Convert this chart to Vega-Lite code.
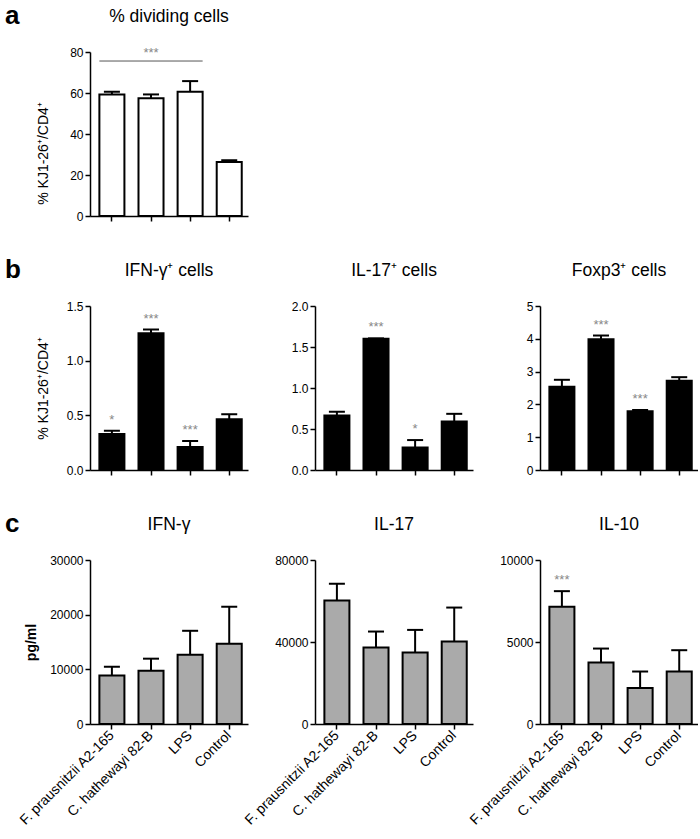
{
  "$schema": "https://vega.github.io/schema/vega-lite/v6.json",
  "padding": {"left": 5, "top": 2, "right": 0, "bottom": 0},
  "config": {
    "font": "Liberation Sans",
    "view": {"stroke": null},
    "axis": {"domainColor": "#000", "domainWidth": 1.5, "tickColor": "#000", "tickWidth": 1.5, "tickSize": 5, "labelColor": "#000", "labelFontSize": 12, "labelFont": "Liberation Sans", "grid": false, "titleColor": "#000", "labelPadding": 2, "titleFont": "Liberation Sans", "labelOverlap": false},
    "title": {"fontSize": 17.5, "fontWeight": "normal", "color": "#000", "offset": 21, "font": "Liberation Sans"}
  },
  "datasets": {
    "bars": [
      {"panel": "a", "group": "F. prausnitzii A2-165", "mean": 59.3, "upper": 60.6, "sig": ""},
      {"panel": "a", "group": "C. hathewayi 82-B", "mean": 57.5, "upper": 59.3, "sig": ""},
      {"panel": "a", "group": "LPS", "mean": 60.6, "upper": 65.8, "sig": ""},
      {"panel": "a", "group": "Control", "mean": 26.3, "upper": 27.2, "sig": ""},
      {"panel": "b1", "group": "F. prausnitzii A2-165", "mean": 0.33, "upper": 0.36, "sig": "*"},
      {"panel": "b1", "group": "C. hathewayi 82-B", "mean": 1.25, "upper": 1.285, "sig": "***"},
      {"panel": "b1", "group": "LPS", "mean": 0.21, "upper": 0.265, "sig": "***"},
      {"panel": "b1", "group": "Control", "mean": 0.465, "upper": 0.51, "sig": ""},
      {"panel": "b2", "group": "F. prausnitzii A2-165", "mean": 0.665, "upper": 0.71, "sig": ""},
      {"panel": "b2", "group": "C. hathewayi 82-B", "mean": 1.6, "upper": 1.605, "sig": "***"},
      {"panel": "b2", "group": "LPS", "mean": 0.275, "upper": 0.365, "sig": "*"},
      {"panel": "b2", "group": "Control", "mean": 0.59, "upper": 0.685, "sig": ""},
      {"panel": "b3", "group": "F. prausnitzii A2-165", "mean": 2.54, "upper": 2.75, "sig": ""},
      {"panel": "b3", "group": "C. hathewayi 82-B", "mean": 3.99, "upper": 4.1, "sig": "***"},
      {"panel": "b3", "group": "LPS", "mean": 1.79, "upper": 1.83, "sig": "***"},
      {"panel": "b3", "group": "Control", "mean": 2.72, "upper": 2.83, "sig": ""},
      {"panel": "c1", "group": "F. prausnitzii A2-165", "mean": 8850, "upper": 10450, "sig": ""},
      {"panel": "c1", "group": "C. hathewayi 82-B", "mean": 9750, "upper": 11950, "sig": ""},
      {"panel": "c1", "group": "LPS", "mean": 12650, "upper": 17050, "sig": ""},
      {"panel": "c1", "group": "Control", "mean": 14700, "upper": 21450, "sig": ""},
      {"panel": "c2", "group": "F. prausnitzii A2-165", "mean": 60300, "upper": 68400, "sig": ""},
      {"panel": "c2", "group": "C. hathewayi 82-B", "mean": 37300, "upper": 45100, "sig": ""},
      {"panel": "c2", "group": "LPS", "mean": 34900, "upper": 45900, "sig": ""},
      {"panel": "c2", "group": "Control", "mean": 40200, "upper": 56800, "sig": ""},
      {"panel": "c3", "group": "F. prausnitzii A2-165", "mean": 7150, "upper": 8100, "sig": "***"},
      {"panel": "c3", "group": "C. hathewayi 82-B", "mean": 3750, "upper": 4600, "sig": ""},
      {"panel": "c3", "group": "LPS", "mean": 2200, "upper": 3200, "sig": ""},
      {"panel": "c3", "group": "Control", "mean": 3200, "upper": 4500, "sig": ""}
    ],
    "sigline": [
      {"from": "F. prausnitzii A2-165", "to": "LPS", "mid": "C. hathewayi 82-B", "y": 75.6, "sig": "***"}
    ]
  },
  "vconcat": [
    {
      "title": {"text": "a", "anchor": "start", "frame": "group", "fontSize": 26, "fontWeight": "bold", "dx": -85, "offset": -42, "baseline": "alphabetic"},
      "hconcat": [
        {
          "width": 158, "height": 164,
          "title": "% dividing cells",
          "layer": [
            {
              "data": {"name": "bars"},
              "transform": [{"filter": "datum.panel === 'a'"}],
              "layer": [
                {"mark": {"type": "bar", "fill": "#fff", "stroke": "#000", "strokeWidth": 2},
                 "encoding": {
                   "x": {"field": "group", "type": "nominal", "scale": {"domain": ["F. prausnitzii A2-165", "C. hathewayi 82-B", "LPS", "Control"], "paddingInner": 0.36, "paddingOuter": 0.2, "align": 0.6}, "axis": {"title": null, "labels": false}},
                   "y": {"field": "mean", "type": "quantitative", "title": "% KJ1-26⁺/CD4⁺", "scale": {"domain": [0, 80], "nice": false}, "axis": {"values": [0, 20, 40, 60, 80], "titleFontSize": 14, "titleFontWeight": "normal", "minExtent": 30, "titlePadding": 10, "titleY": 101}}}},
                {"mark": {"type": "rule", "stroke": "#000", "strokeWidth": 2},
                 "encoding": {"x": {"field": "group", "type": "nominal", "title": null}, "y": {"field": "mean", "type": "quantitative", "title": "% KJ1-26⁺/CD4⁺"}, "y2": {"field": "upper"}}},
                {"mark": {"type": "tick", "color": "#000", "opacity": 1, "thickness": 2, "size": 16},
                 "encoding": {"x": {"field": "group", "type": "nominal", "title": null}, "y": {"field": "upper", "type": "quantitative", "title": "% KJ1-26⁺/CD4⁺"}}}
              ]
            },
            {
              "data": {"name": "sigline"},
              "layer": [
                {"mark": {"type": "rule", "stroke": "#555", "strokeWidth": 1},
                 "encoding": {"x": {"field": "from", "type": "nominal", "title": null, "bandPosition": 0}, "x2": {"field": "to", "bandPosition": 1}, "y": {"field": "y", "type": "quantitative", "title": "% KJ1-26⁺/CD4⁺"}}},
                {"mark": {"type": "text", "color": "#888", "fontSize": 13, "baseline": "alphabetic", "dy": -4},
                 "encoding": {"x": {"field": "mid", "type": "nominal", "title": null}, "y": {"field": "y", "type": "quantitative", "title": "% KJ1-26⁺/CD4⁺"}, "text": {"field": "sig"}}}
              ]
            }
          ]
        }
      ]
    },
    {
      "title": {"text": "b", "anchor": "start", "frame": "group", "fontSize": 26, "fontWeight": "bold", "dx": -85, "offset": -42, "baseline": "alphabetic"},
      "spacing": 67,
      "bounds": "flush",
      "hconcat": [
        {
          "width": 158, "height": 164,
          "title": "IFN-γ⁺ cells",
          "data": {"name": "bars"},
          "transform": [{"filter": "datum.panel === 'b1'"}],
          "encoding": {"x": {"field": "group", "type": "nominal", "scale": {"domain": ["F. prausnitzii A2-165", "C. hathewayi 82-B", "LPS", "Control"], "paddingInner": 0.36, "paddingOuter": 0.2, "align": 0.6}, "axis": {"title": null, "labels": false}}},
          "layer": [
            {"mark": {"type": "bar", "fill": "#000", "stroke": "#000", "strokeWidth": 2},
             "encoding": {"y": {"field": "mean", "type": "quantitative", "title": "% KJ1-26⁺/CD4⁺", "scale": {"domain": [0, 1.5], "nice": false}, "axis": {"values": [0, 0.5, 1, 1.5], "format": ".1f", "titleFontSize": 14, "titleFontWeight": "normal", "minExtent": 30, "titlePadding": 10}}}},
            {"mark": {"type": "rule", "stroke": "#000", "strokeWidth": 2},
             "encoding": {"y": {"field": "mean", "type": "quantitative", "title": "% KJ1-26⁺/CD4⁺"}, "y2": {"field": "upper"}}},
            {"mark": {"type": "tick", "color": "#000", "opacity": 1, "thickness": 2, "size": 16},
             "encoding": {"y": {"field": "upper", "type": "quantitative", "title": "% KJ1-26⁺/CD4⁺"}}},
            {"mark": {"type": "text", "color": "#888", "fontSize": 13, "baseline": "alphabetic", "dy": -7},
             "encoding": {"y": {"field": "upper", "type": "quantitative", "title": "% KJ1-26⁺/CD4⁺"}, "text": {"field": "sig"}}}
          ]
        },
        {
          "width": 158, "height": 164,
          "title": "IL-17⁺ cells",
          "data": {"name": "bars"},
          "transform": [{"filter": "datum.panel === 'b2'"}],
          "encoding": {"x": {"field": "group", "type": "nominal", "scale": {"domain": ["F. prausnitzii A2-165", "C. hathewayi 82-B", "LPS", "Control"], "paddingInner": 0.36, "paddingOuter": 0.2, "align": 0.6}, "axis": {"title": null, "labels": false}}},
          "layer": [
            {"mark": {"type": "bar", "fill": "#000", "stroke": "#000", "strokeWidth": 2},
             "encoding": {"y": {"field": "mean", "type": "quantitative", "title": null, "scale": {"domain": [0, 2], "nice": false}, "axis": {"values": [0, 0.5, 1, 1.5, 2], "format": ".1f"}}}},
            {"mark": {"type": "rule", "stroke": "#000", "strokeWidth": 2},
             "encoding": {"y": {"field": "mean", "type": "quantitative", "title": null}, "y2": {"field": "upper"}}},
            {"mark": {"type": "tick", "color": "#000", "opacity": 1, "thickness": 2, "size": 16},
             "encoding": {"y": {"field": "upper", "type": "quantitative", "title": null}}},
            {"mark": {"type": "text", "color": "#888", "fontSize": 13, "baseline": "alphabetic", "dy": -7},
             "encoding": {"y": {"field": "upper", "type": "quantitative", "title": null}, "text": {"field": "sig"}}}
          ]
        },
        {
          "width": 158, "height": 164,
          "title": "Foxp3⁺ cells",
          "data": {"name": "bars"},
          "transform": [{"filter": "datum.panel === 'b3'"}],
          "encoding": {"x": {"field": "group", "type": "nominal", "scale": {"domain": ["F. prausnitzii A2-165", "C. hathewayi 82-B", "LPS", "Control"], "paddingInner": 0.36, "paddingOuter": 0.2, "align": 0.6}, "axis": {"title": null, "labels": false}}},
          "layer": [
            {"mark": {"type": "bar", "fill": "#000", "stroke": "#000", "strokeWidth": 2},
             "encoding": {"y": {"field": "mean", "type": "quantitative", "title": null, "scale": {"domain": [0, 5], "nice": false}, "axis": {"values": [0, 1, 2, 3, 4, 5], "format": "d"}}}},
            {"mark": {"type": "rule", "stroke": "#000", "strokeWidth": 2},
             "encoding": {"y": {"field": "mean", "type": "quantitative", "title": null, "axis": {"values": [0, 1, 2, 3, 4, 5], "format": "d"}}, "y2": {"field": "upper"}}},
            {"mark": {"type": "tick", "color": "#000", "opacity": 1, "thickness": 2, "size": 16},
             "encoding": {"y": {"field": "upper", "type": "quantitative", "title": null, "axis": {"values": [0, 1, 2, 3, 4, 5], "format": "d"}}}},
            {"mark": {"type": "text", "color": "#888", "fontSize": 13, "baseline": "alphabetic", "dy": -7},
             "encoding": {"y": {"field": "upper", "type": "quantitative", "title": null, "axis": {"values": [0, 1, 2, 3, 4, 5], "format": "d"}}, "text": {"field": "sig"}}}
          ]
        }
      ]
    },
    {
      "title": {"text": "c", "anchor": "start", "frame": "group", "fontSize": 26, "fontWeight": "bold", "dx": -85, "offset": -42, "baseline": "alphabetic"},
      "spacing": 67,
      "bounds": "flush",
      "hconcat": [
        {
          "width": 158, "height": 164,
          "title": "IFN-γ",
          "data": {"name": "bars"},
          "transform": [{"filter": "datum.panel === 'c1'"}],
          "encoding": {"x": {"field": "group", "type": "nominal", "scale": {"domain": ["F. prausnitzii A2-165", "C. hathewayi 82-B", "LPS", "Control"], "paddingInner": 0.36, "paddingOuter": 0.2, "align": 0.6}, "axis": {"title": null, "labelAngle": -45, "labelAlign": "right", "labelBaseline": "middle", "labelFontSize": 14, "labelPadding": 4}}},
          "layer": [
            {"mark": {"type": "bar", "fill": "#aaaaaa", "stroke": "#000", "strokeWidth": 2},
             "encoding": {"y": {"field": "mean", "type": "quantitative", "title": "pg/ml", "scale": {"domain": [0, 30000], "nice": false}, "axis": {"values": [0, 10000, 20000, 30000], "format": "d", "titleFontSize": 14, "titleFontWeight": "bold", "titlePadding": 11}}}},
            {"mark": {"type": "rule", "stroke": "#000", "strokeWidth": 2},
             "encoding": {"y": {"field": "mean", "type": "quantitative", "title": "pg/ml"}, "y2": {"field": "upper"}}},
            {"mark": {"type": "tick", "color": "#000", "opacity": 1, "thickness": 2, "size": 16},
             "encoding": {"y": {"field": "upper", "type": "quantitative", "title": "pg/ml"}}}
          ]
        },
        {
          "width": 158, "height": 164,
          "title": "IL-17",
          "data": {"name": "bars"},
          "transform": [{"filter": "datum.panel === 'c2'"}],
          "encoding": {"x": {"field": "group", "type": "nominal", "scale": {"domain": ["F. prausnitzii A2-165", "C. hathewayi 82-B", "LPS", "Control"], "paddingInner": 0.36, "paddingOuter": 0.2, "align": 0.6}, "axis": {"title": null, "labelAngle": -45, "labelAlign": "right", "labelBaseline": "middle", "labelFontSize": 14, "labelPadding": 4}}},
          "layer": [
            {"mark": {"type": "bar", "fill": "#aaaaaa", "stroke": "#000", "strokeWidth": 2},
             "encoding": {"y": {"field": "mean", "type": "quantitative", "title": null, "scale": {"domain": [0, 80000], "nice": false}, "axis": {"values": [0, 40000, 80000], "format": "d"}}}},
            {"mark": {"type": "rule", "stroke": "#000", "strokeWidth": 2},
             "encoding": {"y": {"field": "mean", "type": "quantitative", "title": null}, "y2": {"field": "upper"}}},
            {"mark": {"type": "tick", "color": "#000", "opacity": 1, "thickness": 2, "size": 16},
             "encoding": {"y": {"field": "upper", "type": "quantitative", "title": null}}}
          ]
        },
        {
          "width": 158, "height": 164,
          "title": "IL-10",
          "data": {"name": "bars"},
          "transform": [{"filter": "datum.panel === 'c3'"}],
          "encoding": {"x": {"field": "group", "type": "nominal", "scale": {"domain": ["F. prausnitzii A2-165", "C. hathewayi 82-B", "LPS", "Control"], "paddingInner": 0.36, "paddingOuter": 0.2, "align": 0.6}, "axis": {"title": null, "labelAngle": -45, "labelAlign": "right", "labelBaseline": "middle", "labelFontSize": 14, "labelPadding": 4}}},
          "layer": [
            {"mark": {"type": "bar", "fill": "#aaaaaa", "stroke": "#000", "strokeWidth": 2},
             "encoding": {"y": {"field": "mean", "type": "quantitative", "title": null, "scale": {"domain": [0, 10000], "nice": false}, "axis": {"values": [0, 5000, 10000], "format": "d"}}}},
            {"mark": {"type": "rule", "stroke": "#000", "strokeWidth": 2},
             "encoding": {"y": {"field": "mean", "type": "quantitative", "title": null}, "y2": {"field": "upper"}}},
            {"mark": {"type": "tick", "color": "#000", "opacity": 1, "thickness": 2, "size": 16},
             "encoding": {"y": {"field": "upper", "type": "quantitative", "title": null}}},
            {"mark": {"type": "text", "color": "#888", "fontSize": 13, "baseline": "alphabetic", "dy": -7},
             "encoding": {"y": {"field": "upper", "type": "quantitative", "title": null}, "text": {"field": "sig"}}}
          ]
        }
      ]
    }
  ],
  "spacing": 34
}
